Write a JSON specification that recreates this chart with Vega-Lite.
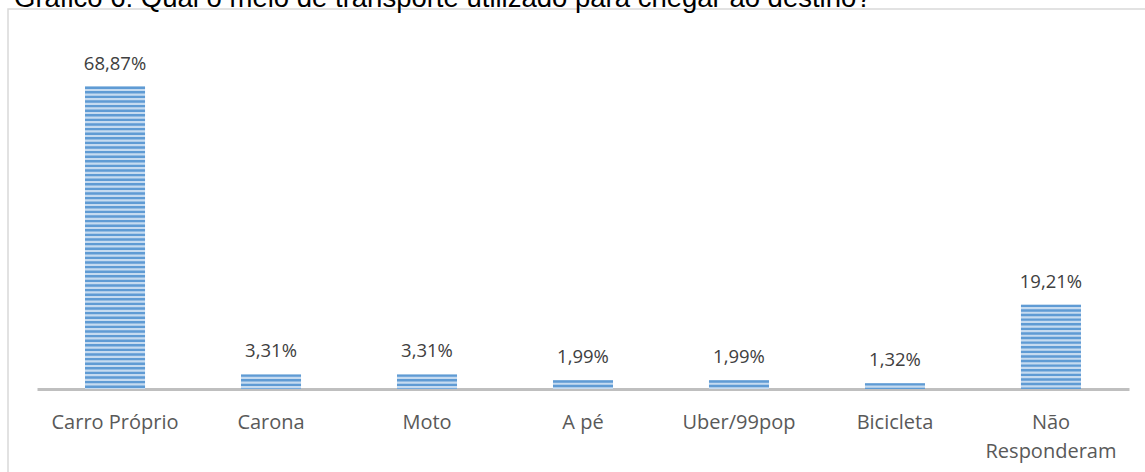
{
  "$schema": "https://vega.github.io/schema/vega-lite/v6.json",
  "autosize": "none",
  "padding": {"left": 8, "top": 9, "right": 0, "bottom": 0},
  "width": 1140,
  "height": 470,
  "title": {
    "text": "Gráfico 6: Qual o meio de transporte utilizado para chegar ao destino?",
    "anchor": "start",
    "frame": "group",
    "orient": "top",
    "baseline": "alphabetic",
    "offset": 0,
    "dy": 25,
    "dx": 6,
    "font": "Liberation Sans",
    "fontSize": 27.5,
    "fontWeight": "normal",
    "color": "#000000"
  },
  "data": {
    "values": [
      {"meio": "Carro Próprio", "pct": 0.6887},
      {"meio": "Carona", "pct": 0.0331},
      {"meio": "Moto", "pct": 0.0331},
      {"meio": "A pé", "pct": 0.0199},
      {"meio": "Uber/99pop", "pct": 0.0199},
      {"meio": "Bicicleta", "pct": 0.0132},
      {"meio": "Não Responderam", "pct": 0.1921}
    ]
  },
  "encoding": {
    "x": {
      "field": "meio",
      "type": "nominal",
      "sort": null,
      "scale": {"range": [29, 1121], "paddingInner": 0.615, "paddingOuter": 0.3077},
      "axis": {
        "title": null,
        "orient": "bottom",
        "offset": -90,
        "domainColor": "#bfbfbf",
        "domainWidth": 3,
        "ticks": false,
        "tickSize": 0,
        "labelPadding": 39,
        "labelBaseline": "alphabetic",
        "labelAngle": 0,
        "labelFont": "Open Sans",
        "labelFontSize": 20,
        "labelColor": "#595959",
        "labelLineHeight": 29,
        "labelOverlap": false,
        "labelLimit": 0,
        "labelExpr": "datum.label == 'Não Responderam' ? ['Não', 'Responderam'] : datum.label"
      }
    },
    "y": {
      "field": "pct",
      "type": "quantitative",
      "scale": {"domain": [-0.2049, 0.8652], "nice": false, "zero": false},
      "axis": null
    }
  },
  "layer": [
    {
      "mark": {"type": "bar", "color": "#c6dbf0"},
      "encoding": {"y2": {"datum": 0}}
    },
    {
      "mark": {"type": "rule", "color": "#5f9bd4", "strokeWidth": 60, "strokeDash": [2.4, 2.2], "strokeCap": "butt"},
      "encoding": {"y2": {"datum": 0}}
    },
    {
      "mark": {"type": "text", "baseline": "alphabetic", "dy": -17, "font": "Open Sans", "fontSize": 18.5, "color": "#404040"},
      "encoding": {"text": {"field": "pct", "type": "quantitative", "format": ".2%"}}
    }
  ],
  "config": {
    "view": {"stroke": "#d9d9d9", "strokeWidth": 1.5},
    "locale": {
      "number": {"decimal": ",", "thousands": ".", "grouping": [3], "currency": ["R$", ""]}
    }
  }
}
